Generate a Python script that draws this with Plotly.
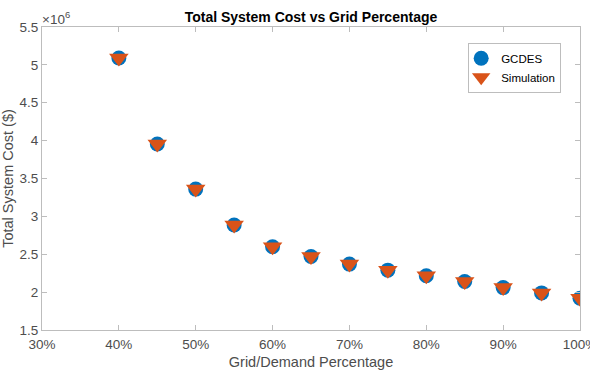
import plotly.graph_objects as go

grid_pct = [40, 45, 50, 55, 60, 65, 70, 75, 80, 85, 90, 95, 100]
gcdes_cost = [5.09e6, 3.955e6, 3.36e6, 2.886e6, 2.60e6, 2.47e6, 2.37e6, 2.29e6, 2.217e6, 2.14e6, 2.06e6, 1.99e6, 1.92e6]
sim_cost = [5.09e6, 3.955e6, 3.36e6, 2.886e6, 2.60e6, 2.47e6, 2.37e6, 2.29e6, 2.217e6, 2.14e6, 2.06e6, 1.99e6, 1.92e6]

x_ticks = [30, 40, 50, 60, 70, 80, 90, 100]
x_labels = ["30%", "40%", "50%", "60%", "70%", "80%", "90%", "100%"]
y_ticks = [1.5e6, 2e6, 2.5e6, 3e6, 3.5e6, 4e6, 4.5e6, 5e6, 5.5e6]
y_labels = ["1.5", "2", "2.5", "3", "3.5", "4", "4.5", "5", "5.5"]

font = "Liberation Sans, Arial, sans-serif"
grey = "#4d4d4d"

fig = go.Figure()
fig.add_trace(go.Scatter(x=grid_pct, y=gcdes_cost, mode="markers", name="GCDES",
                         marker=dict(symbol="circle", size=15, color="#0072BD")))
fig.add_trace(go.Scatter(x=grid_pct, y=sim_cost, mode="markers", name="Simulation",
                         marker=dict(symbol="triangle-down", size=17, color="#D95319")))

axis_common = dict(showline=True, linecolor="#bdbdbd", linewidth=1, mirror="ticks",
                   ticks="inside", ticklen=5, tickcolor="#bdbdbd", showgrid=False,
                   zeroline=False, tickfont=dict(family=font, size=13.5, color=grey),
                   ticklabeloverflow="allow", automargin=False)

fig.update_layout(
    width=590, height=371,
    margin=dict(l=42, r=10, t=27, b=41),
    paper_bgcolor="white", plot_bgcolor="white",
    title=dict(text="<b>Total System Cost vs Grid Percentage</b>", x=0.5271,
               xanchor="center", y=1 - 17 / 371, yanchor="middle",
               font=dict(family=font, size=14, color="black")),
    xaxis=dict(range=[30, 100], tickvals=x_ticks, ticktext=x_labels, ticklabelstandoff=2,
               title=dict(text="Grid/Demand Percentage", font=dict(family=font, size=14.5, color=grey), standoff=5),
               **axis_common),
    yaxis=dict(range=[1.5e6, 5.5e6], tickvals=y_ticks, ticktext=y_labels,
               title=dict(text="Total System Cost ($)", font=dict(family=font, size=14.5, color=grey), standoff=3),
               **axis_common),
    legend=dict(x=0.965, y=0.948, xanchor="right", yanchor="top",
                bordercolor="#bdbdbd", borderwidth=1, bgcolor="white",
                font=dict(family=font, size=11.5, color="black"),
                itemwidth=30, indentation=-8, tracegroupgap=0),
    showlegend=True,
)
fig.add_annotation(text="×10<sup>6</sup>", xref="paper", yref="paper", x=0, y=1,
                   xanchor="left", yanchor="bottom", showarrow=False,
                   font=dict(family=font, size=13.5, color=grey), xshift=-2, yshift=-2)

fig.write_html("out.html")
